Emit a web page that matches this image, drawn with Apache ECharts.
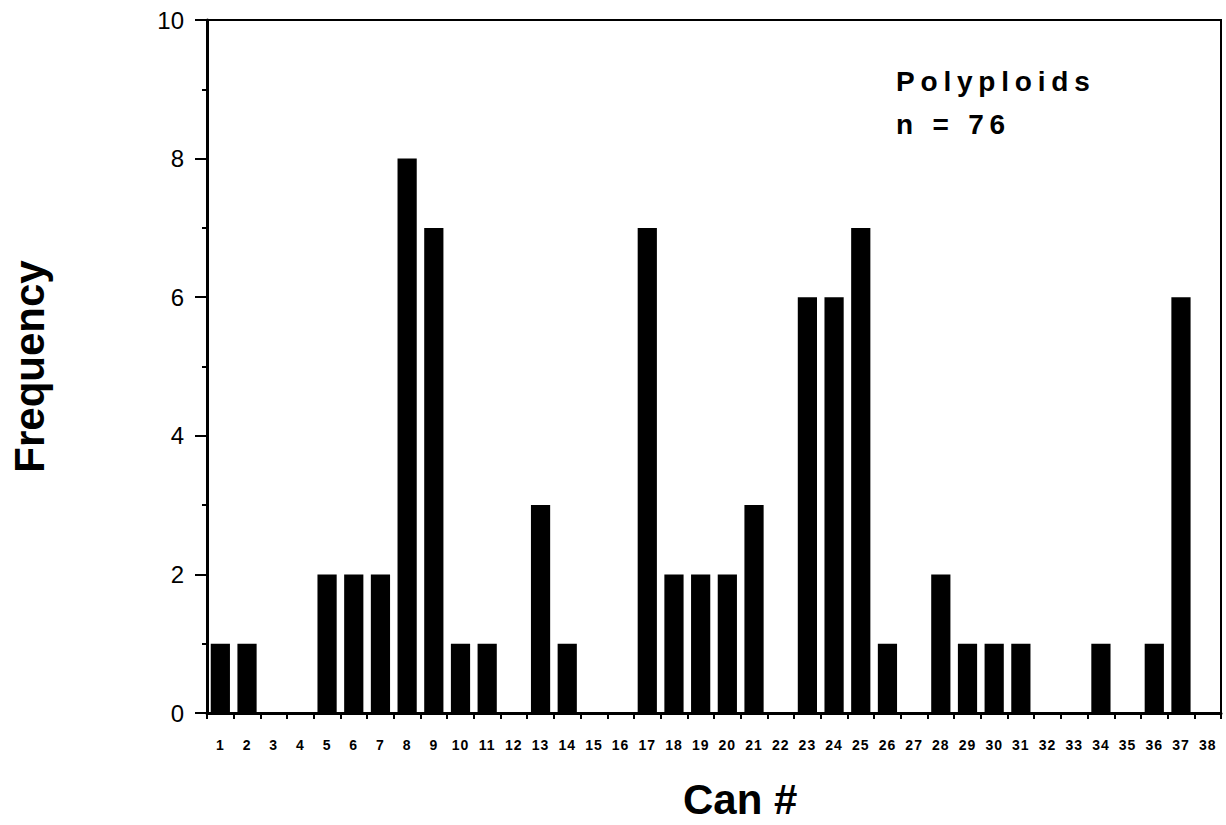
<!DOCTYPE html>
<html>
<head>
<meta charset="utf-8">
<script src="https://cdn.jsdelivr.net/npm/echarts@6/dist/echarts.min.js"></script>
<style>
  html, body { margin: 0; padding: 0; background: #fff; }
  #main { width: 1226px; height: 825px; }
  /* the Polyploids note is set with wide tracking in the original */
  #main text[style*="28px"], #main text[font-size="28"], #main text[font-size="28px"] { letter-spacing: 5.8px; }
  #main text[style*="14px"] { letter-spacing: 1px; }
</style>
</head>
<body>
<div id="main"></div>
<script>
  // can numbers along the x axis
  const cans = []
  for (let i = 1; i <= 38; i++) cans.push(String(i))

  // frequency per can
  const frequency = [1, 1, 0, 0, 2, 2, 2, 8, 7, 1, 1, 0, 3, 1, 0, 0, 7, 2, 2, 2,
    3, 0, 6, 6, 7, 1, 0, 2, 1, 1, 1, 0, 0, 1, 0, 1, 6, 0]

  const yTicks = [0, 2, 4, 6, 8, 10]

  const FONT = 'Liberation Sans, Arial, sans-serif'

  const chart = echarts.init(document.getElementById('main'), null, { renderer: 'svg' })
  chart.setOption({
    animation: false,
    backgroundColor: '#fff',
    grid: {
      left: 206,
      right: 5,
      top: 20,
      bottom: 112,
      show: true,
      borderColor: '#000',
      borderWidth: 2
    },
    xAxis: {
      type: 'category',
      data: cans,
      axisLine: { lineStyle: { color: '#000', width: 3 } },
      axisTick: { show: true, alignWithLabel: false, length: 6, lineStyle: { color: '#000', width: 2 } },
      axisLabel: {
        color: '#000',
        fontFamily: FONT,
        fontWeight: 'bold',
        fontSize: 14,
        margin: 25,
        interval: 0
      },
      splitLine: { show: false }
    },
    yAxis: {
      type: 'value',
      min: yTicks[0],
      max: yTicks[yTicks.length - 1],
      interval: 2,
      axisLine: { show: true, lineStyle: { color: '#000', width: 3 } },
      axisTick: { show: true, length: 12, lineStyle: { color: '#000', width: 2 } },
      minorTick: { show: true, splitNumber: 2, length: 5, lineStyle: { color: '#000', width: 2 } },
      axisLabel: {
        color: '#000',
        fontFamily: FONT,
        fontSize: 24,
        margin: 23
      },
      splitLine: { show: false },
      name: 'Frequency',
      nameLocation: 'middle',
      nameRotate: 90,
      nameGap: 157,
      nameTextStyle: {
        color: '#000',
        fontFamily: FONT,
        fontWeight: 'bold',
        fontSize: 42
      }
    },
    graphic: [
      {
        type: 'text',
        left: 896,
        top: 60,
        style: {
          text: 'Polyploids\nn = 76',
          fill: '#000',
          font: 'bold 28px ' + FONT,
          lineHeight: 43
        }
      },
      {
        type: 'text',
        left: 683,
        top: 778,
        style: {
          text: 'Can #',
          fill: '#000',
          font: 'bold 42px ' + FONT
        }
      }
    ],
    series: [{
      type: 'bar',
      data: frequency,
      barCategoryGap: '28%',
      itemStyle: { color: '#000' }
    }]
  })
</script>
</body>
</html>
